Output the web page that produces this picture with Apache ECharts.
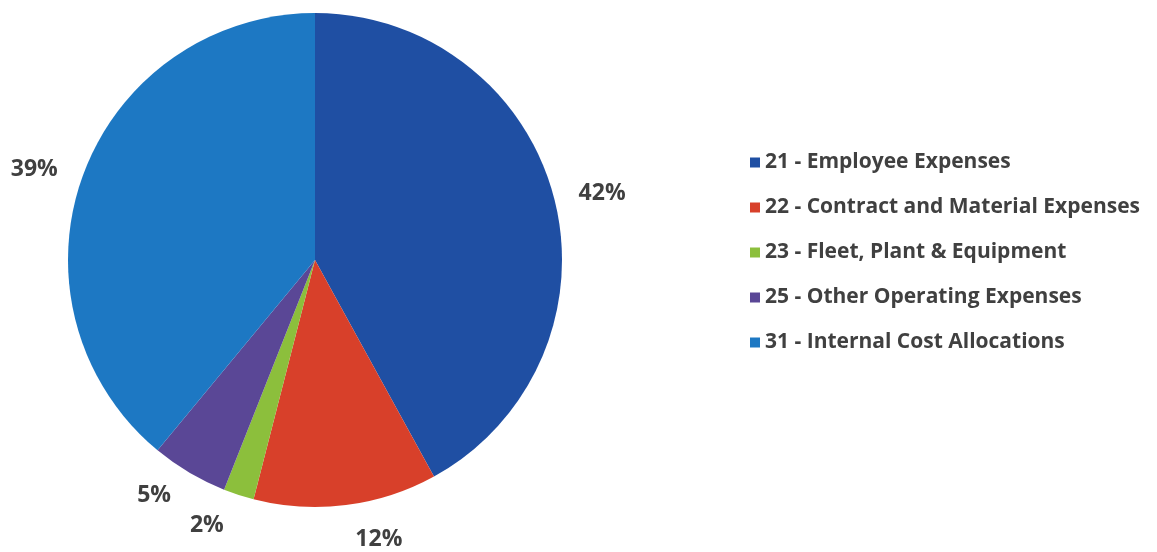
<!DOCTYPE html>
<html><head><meta charset="utf-8">
<script src="https://cdn.jsdelivr.net/npm/echarts@6/dist/echarts.min.js"></script>
<style>html,body{margin:0;padding:0;background:#fff}#c{width:1157px;height:552px}</style>
</head><body><div id="c"></div>
<script>
const categories = ["21 - Employee Expenses","22 - Contract and Material Expenses","23 - Fleet, Plant & Equipment","25 - Other Operating Expenses","31 - Internal Cost Allocations"];
const values = [42, 12, 2, 5, 39];
const colors = ["#1f4fa3","#d8402a","#8cbf3c","#5a4796","#1d78c3"];
const labelLengths = [20, 35, 32, 26, 21];
const chart = echarts.init(document.getElementById('c'));
chart.setOption({
  animation:false,
  color: colors,
  legend:{
    orient:'vertical', left:745, top:147, itemWidth:10, itemHeight:10, itemGap:24,
    icon:'rect',
    textStyle:{fontFamily:'Open Sans', fontWeight:'bold', fontSize:21, color:'#404040'},
    data: categories
  },
  series:[{
    type:'pie', center:[315,260], radius:247, startAngle:90, clockwise:true,
    data: categories.map((n,i)=>({name:n, value:values[i], labelLine:{length:labelLengths[i]}})),
    label:{show:true, position:'outside', overflow:'none', formatter: p=>Math.round(p.percent)+'%',
      fontFamily:'Open Sans', fontWeight:'bold', fontSize:23, color:'#404040'},
    labelLine:{show:false, length:22, length2:0},
    itemStyle:{borderWidth:0}
  }]
});
</script></body></html>
